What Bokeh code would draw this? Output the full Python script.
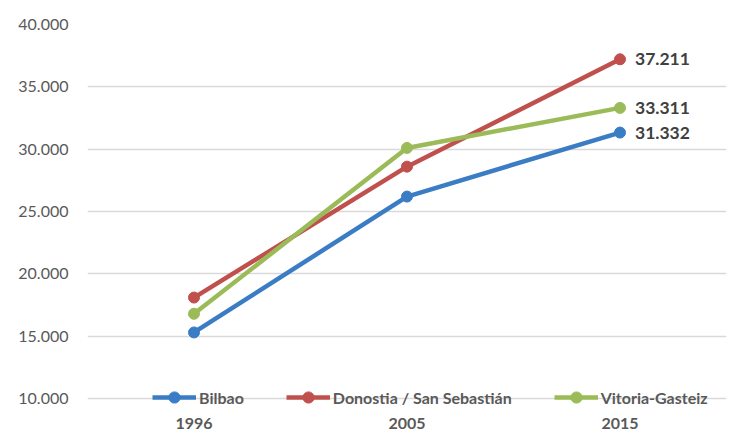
from bokeh.plotting import figure
from bokeh.models import (ColumnDataSource, Legend, LegendItem, LabelSet,
                          FactorRange, Range1d, FixedTicker)
from bokeh.core.properties import value
from bokeh.embed import file_html
from bokeh.resources import INLINE

years = ["1996", "2005", "2015"]
bilbao = [15300, 26200, 31332]
donostia = [18100, 28600, 37211]
vitoria = [16800, 30100, 33311]
series_names = ["Bilbao", "Donostia / San Sebastián", "Vitoria-Gasteiz"]
series_values = [bilbao, donostia, vitoria]
colors = ["#3A7DC4", "#C0504D", "#9BBB59"]
y_ticks = [10000, 15000, 20000, 25000, 30000, 35000, 40000]

FONT = "Lato"


def fmt(v):
    return f"{v:,}".replace(",", ".")


p = figure(x_range=FactorRange(*years, range_padding=0),
           y_range=Range1d(9202, 40000),
           width=739, height=431, output_backend="svg", toolbar_location=None,
           min_border_left=87, min_border_right=13, min_border_top=24,
           min_border_bottom=21)
p.outline_line_color = None
p.background_fill_color = "white"
p.border_fill_color = "white"

p.xgrid.grid_line_color = None
p.ygrid.grid_line_color = "#D9D9D9"
p.ygrid.grid_line_width = 1.3

p.yaxis.ticker = FixedTicker(ticks=y_ticks)
p.yaxis.major_label_overrides = {t: fmt(t) for t in y_ticks}
for ax in (p.xaxis[0], p.yaxis[0]):
    ax.axis_line_color = None
    ax.major_tick_line_color = None
    ax.minor_tick_line_color = None
    ax.major_label_text_font = FONT
    ax.major_label_text_color = "#595959"
p.yaxis.major_label_text_font_size = "16px"
p.yaxis.major_label_standoff = 13
p.xaxis.major_label_text_font_size = "16px"
p.xaxis.major_label_text_font_style = "bold"
p.xaxis.major_label_standoff = 3

items = []
last_vals = []
for name, vals, col in zip(series_names, series_values, colors):
    src = ColumnDataSource(dict(x=years, y=vals))
    lr = p.line("x", "y", source=src, line_color=col, line_width=4.5)
    sr = p.scatter("x", "y", source=src, marker="circle", size=11,
                   fill_color=col, line_color=col)
    items.append(LegendItem(label=name, renderers=[lr, sr]))
    last_vals.append(vals[-1])

lab_src = ColumnDataSource(dict(x=[years[-1]] * len(last_vals), y=last_vals,
                                text=[fmt(v) for v in last_vals]))
p.add_layout(LabelSet(x="x", y="y", text="text", source=lab_src,
                      x_offset=15, y_offset=0, text_baseline="middle",
                      text_font=value(FONT), text_font_style="bold",
                      text_font_size="17.5px", text_color="#404040"))

legend = Legend(items=items, orientation="horizontal", location=(65, -3),
                padding=0, margin=0, spacing=42, glyph_width=44, glyph_height=28,
                label_height=28, label_standoff=3,
                border_line_alpha=0, background_fill_alpha=0,
                label_text_font=FONT, label_text_font_style="bold",
                label_text_font_size="16px", label_text_color="#595959")
p.add_layout(legend)

open("out.html", "w").write(file_html(p, INLINE))
